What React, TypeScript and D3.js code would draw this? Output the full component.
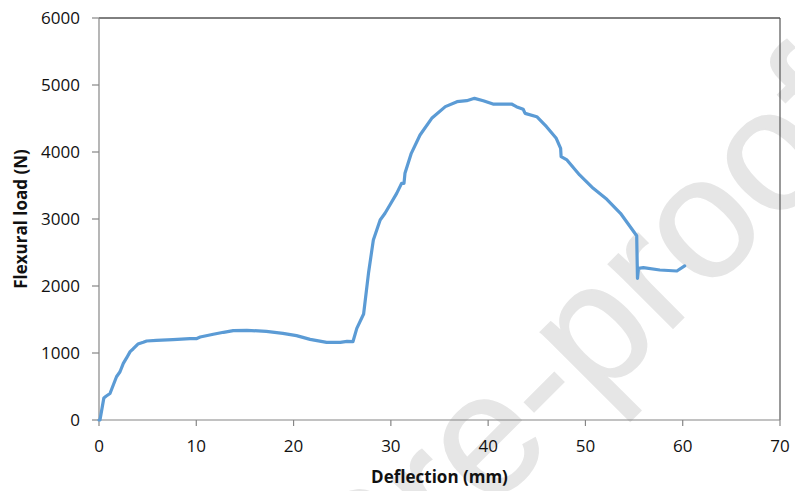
import React from "react";
import * as d3 from "d3";

const deflection = [0, 0.1, 0.5, 0.72, 1.13, 1.8, 2.16, 2.5, 2.85, 3.2, 3.5, 4.0, 4.55, 4.9, 5.9, 7.6, 9.35, 10.0, 10.4, 11.75, 12.8, 13.8, 15.2, 17.2, 18.9, 20.3, 21.7, 23.4, 24.8, 25.5, 26.1, 26.5, 27.2, 27.7, 28.2, 28.9, 29.4, 29.9, 30.6, 31.1, 31.35, 31.45, 32.1, 33.0, 34.2, 35.6, 36.8, 37.8, 38.6, 39.5, 40.5, 42.4, 42.9, 43.6, 43.8, 45.0, 46.0, 47.0, 47.45, 47.5, 48.1, 49.4, 50.8, 52.2, 53.6, 55.27, 55.35, 55.45, 55.95, 57.65, 59.4, 60.2];
const load = [0, 0, 330, 355, 395, 646, 720, 846, 930, 1020, 1060, 1134, 1160, 1179, 1189, 1199, 1214, 1214, 1238, 1279, 1309, 1333, 1338, 1323, 1294, 1259, 1204, 1159, 1159, 1174, 1169, 1368, 1582, 2189, 2687, 2985, 3085, 3209, 3383, 3532, 3532, 3682, 3980, 4254, 4503, 4677, 4751, 4766, 4801, 4766, 4716, 4716, 4677, 4637, 4577, 4527, 4378, 4204, 4055, 3930, 3881, 3657, 3458, 3294, 3085, 2750, 2115, 2264, 2273, 2239, 2224, 2299];

const xTicks = [0, 10, 20, 30, 40, 50, 60, 70];
const yTicks = [0, 1000, 2000, 3000, 4000, 5000, 6000];

const W = 795, H = 491;
const M = { left: 99, right: 780, top: 18, bottom: 420 };

export default function App() {
  const x = d3.scaleLinear().domain([0, 70]).range([M.left, M.right]);
  const y = d3.scaleLinear().domain([0, 6000]).range([M.bottom, M.top]);
  const pts: [number, number][] = deflection.map((d, i) => [d, load[i]]);
  const line = d3.line<[number, number]>().x(d => x(d[0])).y(d => y(d[1]));
  const font = "'Open Sans', 'Liberation Sans', sans-serif";
  const axisColor = "#868686";
  return (
    <svg width={W} height={H} style={{ position: "absolute", left: 0, top: 0, background: "#fff" }}>
      <rect x={0} y={0} width={W} height={H} fill="#fff" />
      <g transform="translate(874,127) rotate(-45)">
        <text x={0} y={0} textAnchor="end" fontFamily="'Liberation Sans', Arial, sans-serif" fontSize={172} fill="#e6e6e6" stroke="#e6e6e6" strokeWidth={1.5}>Journal Pre-proof</text>
      </g>
      {/* frame */}
      <line x1={M.left} x2={M.right} y1={M.top} y2={M.top} stroke="#000" strokeWidth={1} />
      <line x1={M.right} x2={M.right} y1={M.top} y2={M.bottom} stroke="#555" strokeWidth={1.2} />
      <line x1={M.left} x2={M.left} y1={M.top} y2={M.bottom} stroke={axisColor} strokeWidth={1.2} />
      <line x1={M.left} x2={M.right} y1={M.bottom} y2={M.bottom} stroke={axisColor} strokeWidth={1.2} />
      {yTicks.map(t => (
        <g key={"y" + t}>
          <line x1={M.left - 7} x2={M.left} y1={y(t)} y2={y(t)} stroke={axisColor} strokeWidth={1.2} />
          <text x={M.left - 19} y={y(t)} dy="0.36em" textAnchor="end" fontFamily={font} fontSize={17} fill="#111">{t}</text>
        </g>
      ))}
      {xTicks.map(t => (
        <g key={"x" + t}>
          <line x1={x(t)} x2={x(t)} y1={M.bottom} y2={M.bottom + 6} stroke={axisColor} strokeWidth={1.2} />
          <text x={x(t)} y={452} textAnchor="middle" fontFamily={font} fontSize={17} fill="#111">{t}</text>
        </g>
      ))}
      <path d={line(pts) || ""} fill="none" stroke="#5B9BD5" strokeWidth={3.2} strokeLinejoin="round" strokeLinecap="round" />
      <text x={(M.left + M.right) / 2} y={483} textAnchor="middle" fontFamily={font} fontWeight="bold" fontSize={17} fill="#111">Deflection (mm)</text>
      <text transform={`translate(27,${(M.top + M.bottom) / 2}) rotate(-90)`} textAnchor="middle" fontFamily={font} fontWeight="bold" fontSize={17} fill="#111">Flexural load (N)</text>
    </svg>
  );
}
